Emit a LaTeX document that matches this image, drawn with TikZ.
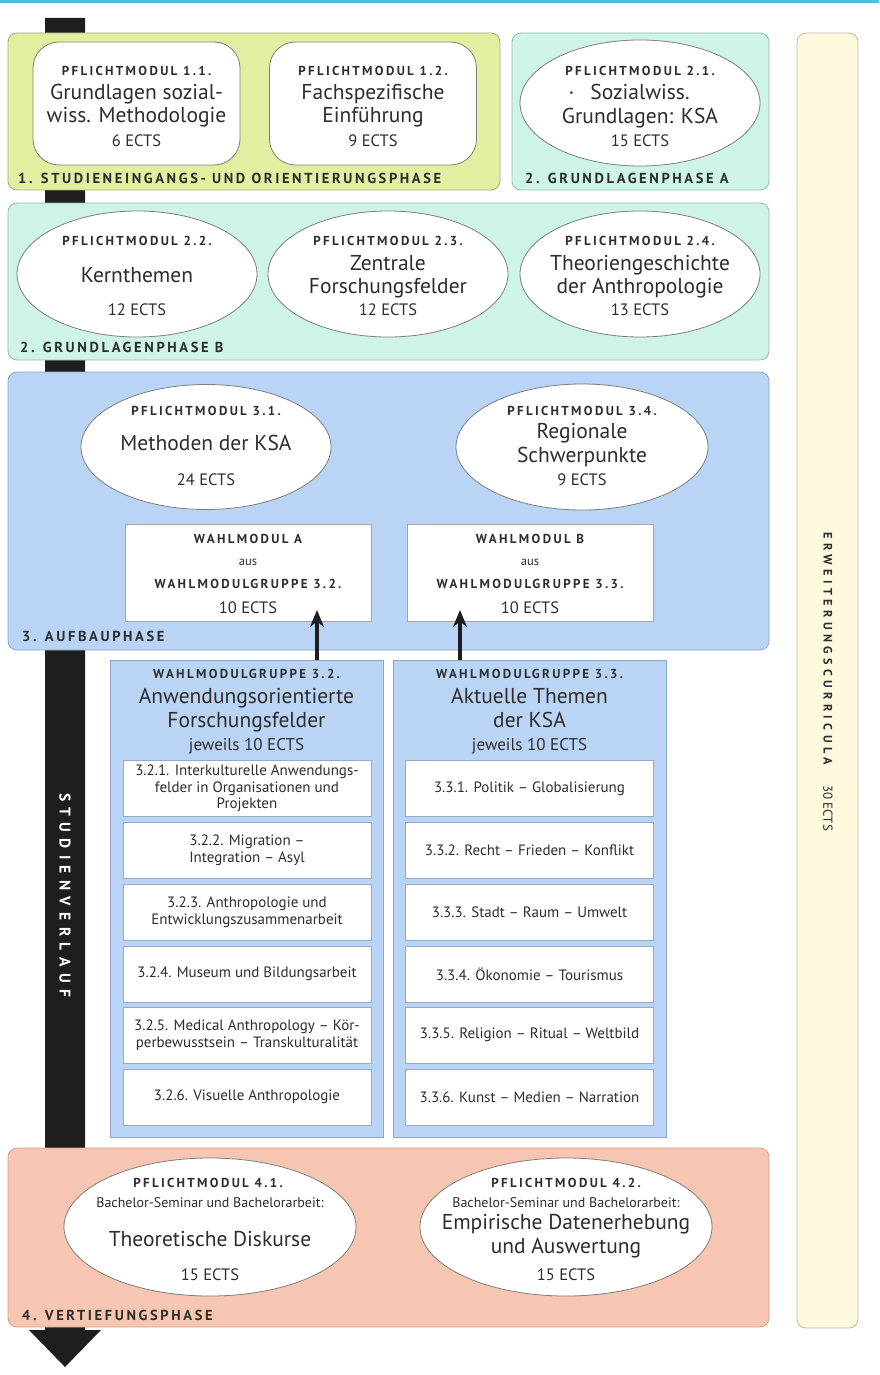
\documentclass[tikz,border=0pt]{standalone}
\usepackage{fontspec}
\setmainfont{PT Sans}
\newfontfamily\capsf[LetterSpace=18]{PT Sans}
\newfontfamily\vertf[LetterSpace=41]{PT Sans}
\newfontfamily\erwf[LetterSpace=36]{PT Sans}
\usetikzlibrary{shapes.geometric,arrows.meta}
\definecolor{cyanl}{RGB}{80,187,218}
\definecolor{barc}{RGB}{30,30,30}
\definecolor{limef}{RGB}{226,239,160}
\definecolor{limeb}{RGB}{165,175,125}
\definecolor{mintf}{RGB}{205,244,230}
\definecolor{mintb}{RGB}{150,185,175}
\definecolor{bluf}{RGB}{186,212,246}
\definecolor{blub}{RGB}{140,165,200}
\definecolor{salf}{RGB}{247,198,178}
\definecolor{salb}{RGB}{210,160,150}
\definecolor{crmf}{RGB}{255,249,222}
\definecolor{crmb}{RGB}{190,185,165}
\definecolor{txt}{RGB}{45,45,45}
\definecolor{shb}{RGB}{125,125,125}
\definecolor{subb}{RGB}{150,170,200}
\tikzset{
  panel/.style={rounded corners=9pt, line width=0.8pt},
  rbox/.style={rectangle, rounded corners=26pt, draw=shb, fill=white, line width=0.8pt, inner sep=0pt},
  ell/.style={ellipse, draw=shb, fill=white, line width=0.8pt, inner sep=0pt},
  wbox/.style={rectangle, draw=shb!70, fill=white, line width=0.6pt, inner sep=0pt},
  grp/.style={rectangle, draw=blub, fill=bluf, line width=0.8pt, inner sep=0pt},
  subbox/.style={rectangle, draw=subb, fill=white, line width=0.8pt, minimum width=248pt, minimum height=56pt, align=center, font=\fontsize{15}{16.5}\selectfont, text=txt, inner sep=1pt},
  hd/.style={font=\capsf\bfseries\fontsize{13}{15}\selectfont, text=txt, anchor=base, inner sep=0pt},
  mn/.style={font=\fontsize{21.5}{24}\selectfont, text=txt, anchor=base, inner sep=0pt},
  ec/.style={font=\fontsize{16.5}{18}\selectfont, text=txt, anchor=base, inner sep=0pt},
  sm/.style={font=\fontsize{14}{16}\selectfont, text=txt, anchor=base, inner sep=0pt},
  aus/.style={font=\fontsize{12.5}{14}\selectfont, text=txt, anchor=base, inner sep=0pt},
  lab/.style={font=\capsf\bfseries\fontsize{14.5}{16}\selectfont, text=txt, anchor=base west, inner sep=0pt},
  arr/.style={line width=3.2pt, draw=barc, -{Stealth[length=17pt,width=14pt]}}
}
\begin{document}
\begin{tikzpicture}[x=1pt,y=-1pt]
\useasboundingbox (0,0) rectangle (879,1375);
\fill[white] (0,0) rectangle (879,1375);
\fill[cyanl] (0,0) rectangle (879,3);
% Studienverlauf bar
\fill[barc] (45,18) -- (85,18) -- (85,1330) -- (101,1330) -- (65,1367) -- (29,1330) -- (45,1330) -- cycle;
% right panel
\draw[panel, fill=crmf, draw=crmb] (797,33) rectangle (858,1328);
\node[rotate=-90, font=\erwf\bfseries\fontsize{12.2}{14}\selectfont, text=txt, inner sep=0pt] (erw) at (828,649) {ERWEITERUNGSCURRICULA};
\node[rotate=-90, font=\fontsize{13}{15}\selectfont, text=txt, inner sep=0pt] (ects30) at (828,808) {30 ECTS};

% ---- Phase 1
\draw[panel, fill=limef, draw=limeb] (8,33) rectangle (500,190);
\node[rbox, minimum width=207pt, minimum height=123pt] (m11) at (136.5,103.5) {};
\node[hd] (m11h) at (136.5,76) {PFLICHTMODUL 1.1.};
\node[mn] (m11a) at (136.5,100) {Grundlagen sozial-};
\node[mn] (m11b) at (136.5,123) {wiss. Methodologie};
\node[ec] (m11e) at (136.5,147) {6 ECTS};
\node[rbox, minimum width=207pt, minimum height=123pt] (m12) at (373,103.5) {};
\node[hd] (m12h) at (373,76) {PFLICHTMODUL 1.2.};
\node[mn] (m12a) at (373,100) {Fachspezifische};
\node[mn] (m12b) at (373,123) {Einführung};
\node[ec] (m12e) at (373,147) {9 ECTS};
\node[lab] (l1) at (18,184) {1. STUDIENEINGANGS- UND ORIENTIERUNGSPHASE};

% ---- Phase 2A
\draw[panel, fill=mintf, draw=mintb] (512,33) rectangle (769,190);
\node[ell, minimum width=240pt, minimum height=126pt] (m21) at (640,103) {};
\node[hd] (m21h) at (640,76) {PFLICHTMODUL 2.1.};
\node[mn] (m21a) at (640,100) {\llap{·\hspace{16pt}}Sozialwiss.};
\node[mn] (m21b) at (640,124) {Grundlagen: KSA};
\node[ec] (m21e) at (640,147) {15 ECTS};
\node[lab] (l2a) at (525,184) {2. GRUNDLAGENPHASE A};

% ---- Phase 2B
\draw[panel, fill=mintf, draw=mintb] (8,203) rectangle (769,360);
\node[ell, minimum width=240pt, minimum height=126pt] (m22) at (137,274) {};
\node[hd] (m22h) at (137,245) {PFLICHTMODUL 2.2.};
\node[mn] (m22a) at (137,282) {Kernthemen};
\node[ec] (m22e) at (137,315) {12 ECTS};
\node[ell, minimum width=240pt, minimum height=126pt] (m23) at (388,274) {};
\node[hd] (m23h) at (388,245) {PFLICHTMODUL 2.3.};
\node[mn] (m23a) at (388,270) {Zentrale};
\node[mn] (m23b) at (388,293) {Forschungsfelder};
\node[ec] (m23e) at (388,315) {12 ECTS};
\node[ell, minimum width=240pt, minimum height=126pt] (m24) at (640,274) {};
\node[hd] (m24h) at (640,245) {PFLICHTMODUL 2.4.};
\node[mn] (m24a) at (640,270) {Theoriengeschichte};
\node[mn] (m24b) at (640,293) {der Anthropologie};
\node[ec] (m24e) at (640,315) {13 ECTS};
\node[lab] (l2b) at (20,352) {2. GRUNDLAGENPHASE B};

% ---- Phase 3
\draw[panel, fill=bluf, draw=blub] (8,372) rectangle (769,650);
\node[ell, minimum width=250pt, minimum height=125pt] (m31) at (206,447) {};
\node[hd] (m31h) at (206,415) {PFLICHTMODUL 3.1.};
\node[mn] (m31a) at (206,450) {Methoden der KSA};
\node[ec] (m31e) at (206,485) {24 ECTS};
\node[ell, minimum width=252pt, minimum height=126pt] (m34) at (582,447) {};
\node[hd] (m34h) at (582,415) {PFLICHTMODUL 3.4.};
\node[mn] (m34a) at (582,438) {Regionale};
\node[mn] (m34b) at (582,462) {Schwerpunkte};
\node[ec] (m34e) at (582,485) {9 ECTS};
\node[wbox, minimum width=246pt, minimum height=97pt] (wa) at (248,572.5) {};
\node[hd] (wah) at (248,543) {WAHLMODUL A};
\node[aus] (waa) at (248,565) {aus};
\node[hd] (wag) at (248,588) {WAHLMODULGRUPPE 3.2.};
\node[ec] (wae) at (248,613) {10 ECTS};
\node[wbox, minimum width=246pt, minimum height=97pt] (wb) at (530,572.5) {};
\node[hd] (wbh) at (530,543) {WAHLMODUL B};
\node[aus] (wba) at (530,565) {aus};
\node[hd] (wbg) at (530,588) {WAHLMODULGRUPPE 3.3.};
\node[ec] (wbe) at (530,613) {10 ECTS};
\node[lab] (l3) at (22,641) {3. AUFBAUPHASE};

% ---- Wahlmodulgruppen
\node[grp, minimum width=273pt, minimum height=477pt] (g32) at (246.5,898.5) {};
\node[hd] (g32h) at (246.5,678) {WAHLMODULGRUPPE 3.2.};
\node[mn] (g32a) at (246.5,703) {Anwendungsorientierte};
\node[mn] (g32b) at (246.5,727) {Forschungsfelder};
\node[ec, font=\fontsize{17}{19}\selectfont] (g32e) at (246.5,750) {jeweils 10 ECTS};
\node[subbox] (s321) at (247,788.5) {3.2.1. Interkulturelle Anwendungs-\\felder in Organisationen und\\Projekten};
\node[subbox] (s322) at (247,850) {3.2.2. Migration –\\Integration – Asyl};
\node[subbox] (s323) at (247,912) {3.2.3. Anthropologie und\\Entwicklungszusammenarbeit};
\node[subbox] (s324) at (247,974) {3.2.4. Museum und Bildungsarbeit};
\node[subbox] (s325) at (247,1035) {3.2.5. Medical Anthropology – Kör-\\perbewusstsein – Transkulturalität};
\node[subbox] (s326) at (247,1097) {3.2.6. Visuelle Anthropologie};

\node[grp, minimum width=273pt, minimum height=477pt] (g33) at (529.5,898.5) {};
\node[hd] (g33h) at (529.5,678) {WAHLMODULGRUPPE 3.3.};
\node[mn] (g33a) at (529.5,703) {Aktuelle Themen};
\node[mn] (g33b) at (529.5,727) {der KSA};
\node[ec, font=\fontsize{17}{19}\selectfont] (g33e) at (529.5,750) {jeweils 10 ECTS};
\node[subbox] (s331) at (529.5,788.5) {3.3.1. Politik – Globalisierung};
\node[subbox] (s332) at (529.5,850) {3.3.2. Recht – Frieden – Konflikt};
\node[subbox] (s333) at (529.5,912) {3.3.3. Stadt – Raum – Umwelt};
\node[subbox] (s334) at (529.5,974) {3.3.4. Ökonomie – Tourismus};
\node[subbox] (s335) at (529.5,1035) {3.3.5. Religion – Ritual – Weltbild};
\node[subbox] (s336) at (529.5,1097) {3.3.6. Kunst – Medien – Narration};

% arrows
\coordinate (ta) at (317,610);
\coordinate (tb) at (460,610);
\draw[arr] (g32.north -| ta) -- (ta);
\draw[arr] (g33.north -| tb) -- (tb);

% ---- Phase 4
\draw[panel, fill=salf, draw=salb] (8,1148) rectangle (769,1327);
\node[ell, minimum width=292pt, minimum height=138pt] (m41) at (210,1227) {};
\node[hd] (m41h) at (208,1187) {PFLICHTMODUL 4.1.};
\node[sm] (m41s) at (210,1207) {Bachelor-Seminar und Bachelorarbeit:};
\node[mn] (m41a) at (210,1246) {Theoretische Diskurse};
\node[ec] (m41e) at (210,1280) {15 ECTS};
\node[ell, minimum width=292pt, minimum height=138pt] (m42) at (566,1227) {};
\node[hd] (m42h) at (566,1187) {PFLICHTMODUL 4.2.};
\node[sm] (m42s) at (566,1207) {Bachelor-Seminar und Bachelorarbeit:};
\node[mn] (m42a) at (566,1229) {Empirische Datenerhebung};
\node[mn] (m42b) at (566,1253) {und Auswertung};
\node[ec] (m42e) at (566,1280) {15 ECTS};
\node[lab] (l4) at (22,1320) {4. VERTIEFUNGSPHASE};

% Studienverlauf label
\node[rotate=-90, font=\vertf\bfseries\fontsize{15.5}{17}\selectfont, text=white, inner sep=0pt] (sv) at (65,895) {STUDIENVERLAUF};
\end{tikzpicture}
\end{document}
